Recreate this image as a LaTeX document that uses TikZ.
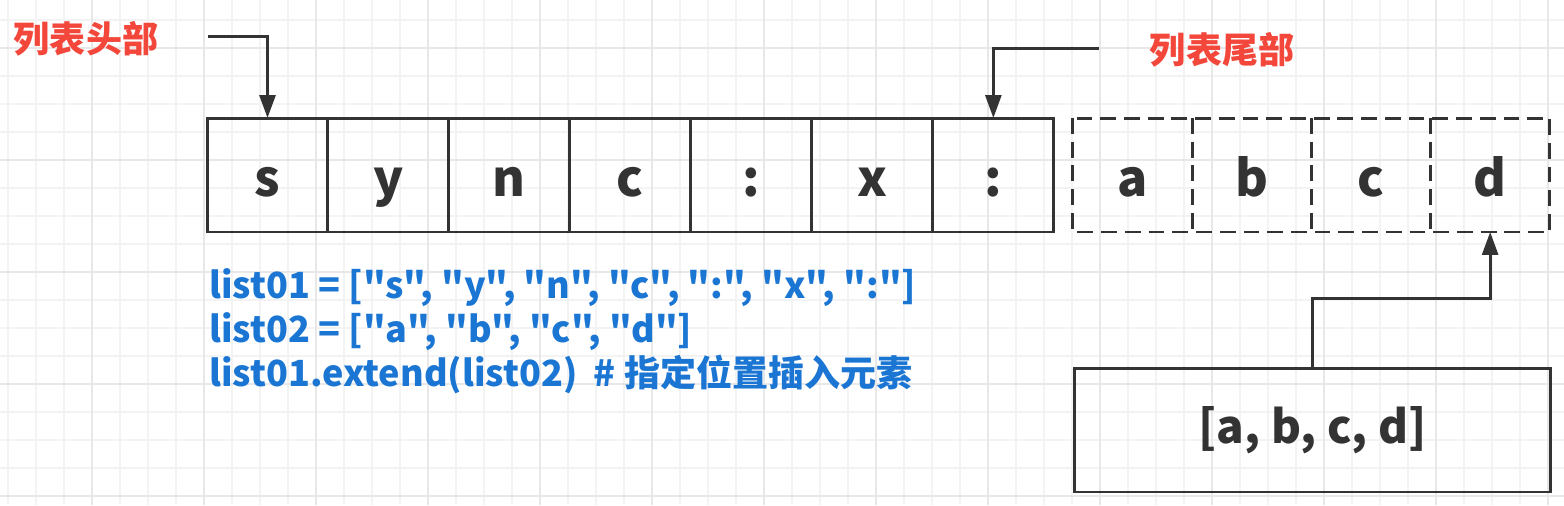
\documentclass[tikz,border=0pt]{standalone}
\usepackage{fontspec}
\setmainfont{Noto Sans CJK SC}
\newfontfamily\codefont{Noto Sans CJK SC}
\usetikzlibrary{arrows.meta,positioning}
\definecolor{ink}{HTML}{333333}
\definecolor{labelred}{HTML}{F4473B}
\definecolor{codeblue}{HTML}{1B76D3}
\definecolor{gridminor}{HTML}{F3F3F3}
\definecolor{gridmajor}{HTML}{E8E8E8}
\tikzset{
  cell/.style={draw=ink, line width=1.7pt, outer sep=0pt, inner sep=0pt,
    minimum width=2.42cm, minimum height=2.28cm, text height=26pt, text depth=2pt,
    text=ink, font=\fontsize{28.5pt}{32pt}\selectfont\bfseries},
  slot/.style={outer sep=0pt, inner sep=0pt,
    minimum width=2.385cm, minimum height=2.28cm, text height=26pt, text depth=2pt,
    text=ink, font=\fontsize{28.5pt}{32pt}\selectfont\bfseries},
  slotline/.style={draw=ink, line width=1.7pt, dash pattern=on 9pt off 4.5pt},
  arr/.style={draw=ink, line width=1.7pt, -{Triangle[length=13pt,width=9pt]}},
  redlabel/.style={text=labelred, font=\fontsize{20.5pt}{24pt}\selectfont\bfseries},
}
\begin{document}
\begin{tikzpicture}[x=0.02cm, y=-0.02cm]
  \useasboundingbox (0,0) rectangle (1564,505);
  \fill[white] (0,0) rectangle (1564,505);
  % Background grid, minor and major lines.
  \foreach \gx in {8,36,...,1564} \draw[gridminor, line width=0.6pt] (\gx,0) -- (\gx,505);
  \foreach \gy in {20,48,...,505} \draw[gridminor, line width=0.6pt] (0,\gy) -- (1564,\gy);
  \foreach \gx in {92,204,...,1564} \draw[gridmajor, line width=0.6pt] (\gx,0) -- (\gx,505);
  \foreach \gy in {48,160,...,505} \draw[gridmajor, line width=0.6pt] (0,\gy) -- (1564,\gy);

  % The list cells.
  \node[cell] (c1) at (267.5,175) {s};
  \node[cell, right=0pt of c1] (c2) {y};
  \node[cell, right=0pt of c2] (c3) {n};
  \node[cell, right=0pt of c3] (c4) {c};
  \node[cell, right=0pt of c4] (c5) {:};
  \node[cell, right=0pt of c5] (c6) {x};
  \node[cell, right=0pt of c6] (c7) {:};

  % The extended cells, dashed.
  \node[slot, right=0.38cm of c7] (e1) {a};
  \node[slot, right=0pt of e1] (e2) {b};
  \node[slot, right=0pt of e2] (e3) {c};
  \node[slot, right=0pt of e3] (e4) {d};
  \draw[slotline] (e1.north west) rectangle (e4.south east);
  \draw[slotline] (e1.north east) -- (e1.south east);
  \draw[slotline] (e2.north east) -- (e2.south east);
  \draw[slotline] (e3.north east) -- (e3.south east);

  % Head and tail markers.
  \node[redlabel] (headlbl) at (86,39) {列表头部};
  \coordinate (headstart) at (208,36);
  \draw[arr] (headstart) -| (c1.north);
  \node[redlabel] (taillbl) at (1222,50) {列表尾部};
  \coordinate (tailstart) at (1099,48);
  \draw[arr] (tailstart) -| (c7.north);

  % The code.
  \node[anchor=west, inner sep=0pt, align=left, text=codeblue,
    font=\codefont\fontsize{20.5pt}{25pt}\selectfont\bfseries] (code) at (209,331)
    {list01 = ["s", "y", "n", "c", ":", "x", ":"]\\
     list02 = ["a", "b", "c", "d"]\\
     list01.extend(list02)\ \ \# 指定位置插入元素};

  % The list that is appended.
  \node[draw=ink, line width=1.7pt, minimum width=9.54cm, minimum height=2.48cm,
    text=ink, font=\fontsize{26pt}{30pt}\selectfont\bfseries] (newlist) at (1312.5,430) {[a, b, c, d]};
  \draw[arr] (newlist.north) -- ++(0,-68) -| (e4.south);
\end{tikzpicture}
\end{document}
